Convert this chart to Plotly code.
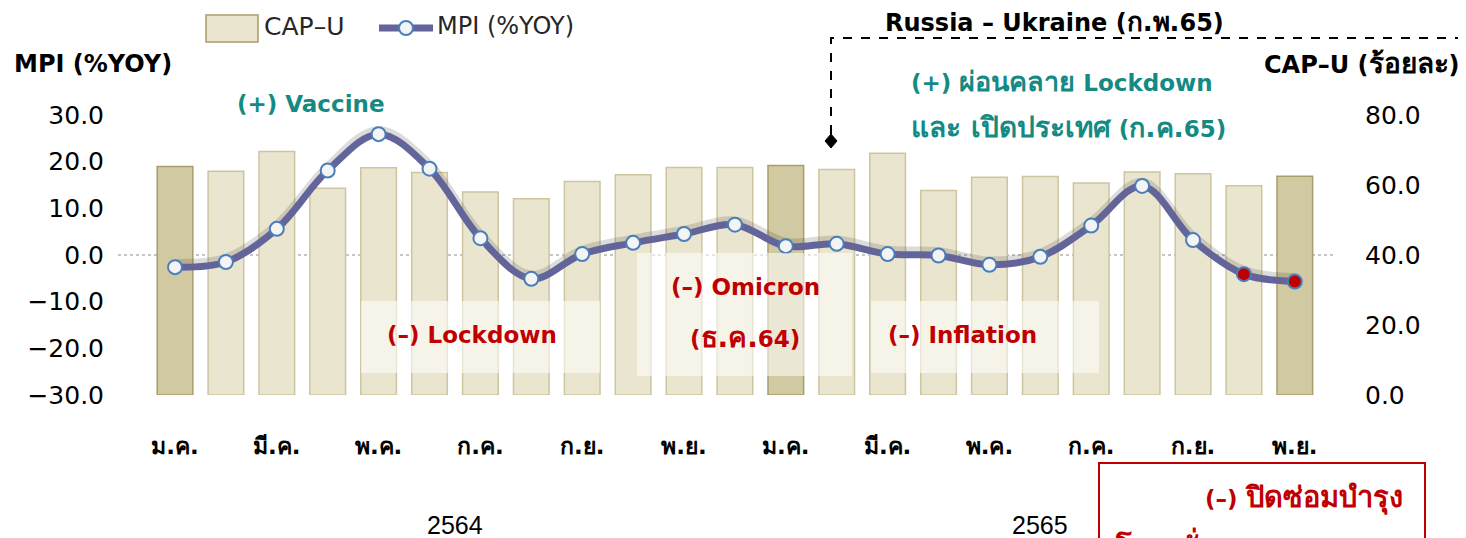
import plotly.graph_objects as go

# ---------------- data ----------------
months = ["ม.ค.", "ก.พ.", "มี.ค.", "เม.ย.", "พ.ค.", "มิ.ย.", "ก.ค.", "ส.ค.", "ก.ย.", "ต.ค.", "พ.ย.", "ธ.ค.",
          "ม.ค.", "ก.พ.", "มี.ค.", "เม.ย.", "พ.ค.", "มิ.ย.", "ก.ค.", "ส.ค.", "ก.ย.", "ต.ค.", "พ.ย."]
cap_u = [65.3, 63.9, 69.6, 59.1, 64.9, 63.6, 58.0, 56.1, 61.0, 62.9, 65.0, 65.0,
         65.6, 64.4, 69.1, 58.4, 62.2, 62.4, 60.6, 63.7, 63.2, 59.8, 62.5]
mpi_yoy = [-2.6, -1.5, 5.6, 18.1, 25.9, 18.5, 3.6, -5.1, 0.2, 2.6, 4.5, 6.5,
           1.9, 2.4, 0.2, -0.1, -2.1, -0.4, 6.3, 14.8, 3.2, -4.1, -5.7]
highlight_bars = [0, 12, 22]          # darker bars
red_points = [21, 22]                 # latest months highlighted in red
tick_idx = list(range(0, 23, 2))
tick_labels = [months[i] for i in tick_idx]
years = ["2564", "2565"]

x = list(range(len(months)))

# ---------------- geometry (reference pixel coords; page body has 8px margin) ----------------
OFF = 8
W, H = 1466 - OFF, 538 - OFF
L, R, T, B = 118, 1333, 115, 395
def px(v):
    return (v - L) / (R - L)
def py(v):
    return (B - v) / (B - T)

TEAL = "#138A84"
RED = "#C00000"
LINE_C = "#63659A"
FONT = "DejaVu Sans, Noto Sans, sans-serif"
NUMFONT = "DejaVu Sans, Liberation Sans, sans-serif"

def th(s, size):
    return f'<span style="font-size:{size}px">{s}</span>'

bar_fill = ["#D1C9A1" if i in highlight_bars else "#EAE5CF" for i in x]
bar_line = ["#A99D6B" if i in highlight_bars else "#CDC5A0" for i in x]
mk_fill = [RED if i in red_points else "#F4F4F4" for i in x]

fig = go.Figure()
fig.add_trace(go.Bar(
    x=x, y=cap_u, name="CAP-U", yaxis="y", width=0.70, showlegend=False,
    marker=dict(color=bar_fill, line=dict(color=bar_line, width=1.5)),
))
# soft drop shadow of the line (same data on a slightly shifted hidden axis)
fig.add_trace(go.Scatter(
    x=x, y=mpi_yoy, yaxis="y2", mode="lines", showlegend=False, hoverinfo="skip",
    line=dict(color="rgba(40,40,40,0.16)", width=9, shape="spline", smoothing=1.0),
))
fig.add_trace(go.Scatter(
    x=x, y=mpi_yoy, name="MPI (%YOY)", yaxis="y3", mode="lines+markers", showlegend=False,
    line=dict(color=LINE_C, width=7, shape="spline", smoothing=1.0),
    marker=dict(size=14, color=mk_fill, line=dict(color="#4A7EBB", width=2)),
))

shapes = [
    dict(type="line", xref="paper", yref="y3", x0=0, x1=1, y0=0, y1=0,
         line=dict(color="#8C8C8C", width=1, dash="dot"), layer="below"),
    # translucent annotation panels
    dict(type="rect", xref="paper", yref="paper", x0=px(361), x1=px(600), y0=py(373), y1=py(301),
         fillcolor="rgba(255,255,255,0.55)", line=dict(width=0), layer="above"),
    dict(type="rect", xref="paper", yref="paper", x0=px(637), x1=px(852), y0=py(376), y1=py(253),
         fillcolor="rgba(255,255,255,0.55)", line=dict(width=0), layer="above"),
    dict(type="rect", xref="paper", yref="paper", x0=px(871), x1=px(1099), y0=py(373), y1=py(301),
         fillcolor="rgba(255,255,255,0.55)", line=dict(width=0), layer="above"),
    # Russia-Ukraine dashed leader
    dict(type="path", xref="paper", yref="paper",
         path=f"M {px(831)} {py(134)} L {px(831)} {py(38)} L {px(1470)} {py(38)}",
         line=dict(color="black", width=2, dash="dash")),
    dict(type="path", xref="paper", yref="paper",
         path=f"M {px(831)} {py(134)} L {px(837)} {py(141)} L {px(831)} {py(148)} L {px(825)} {py(141)} Z",
         fillcolor="black", line=dict(color="black", width=1)),
    # red box bottom right
    dict(type="rect", xref="paper", yref="paper", x0=px(1099), x1=px(1425), y0=py(575), y1=py(463),
         line=dict(color=RED, width=2), fillcolor="rgba(0,0,0,0)"),
    # manual legend: CAP-U swatch
    dict(type="rect", xref="paper", yref="paper", x0=px(206), x1=px(258), y0=py(42), y1=py(15),
         fillcolor="#EAE5CF", line=dict(color="#A99D6B", width=1.5)),
    # manual legend: MPI line sample + marker
    dict(type="line", xref="paper", yref="paper", x0=px(379), x1=px(433), y0=py(28), y1=py(28),
         line=dict(color=LINE_C, width=7)),
    dict(type="circle", xref="paper", yref="paper", x0=px(399), x1=px(413), y0=py(35), y1=py(21),
         fillcolor="#F4F4F4", line=dict(color="#4A7EBB", width=2)),
]

def ann(text, xpix, ypix, color="black", size=23, bold=True, xanchor="center", family=FONT):
    t = f"<b>{text}</b>" if bold else text
    return dict(text=t, x=px(xpix), y=py(ypix), xref="paper", yref="paper",
                xanchor=xanchor, yanchor="middle", showarrow=False,
                font=dict(color=color, size=size, family=family))

annotations = [
    ann("CAP–U", 262, 26, color="#262626", size=25, bold=False, xanchor="left"),
    ann("MPI (%YOY)", 435, 26, color="#262626", size=24, bold=False, xanchor="left"),
    ann("MPI (%YOY)", 12, 64, size=24, xanchor="left"),
    ann("CAP–U (" + th("ร้อยละ", 28) + ")", 1462, 64, size=24, xanchor="right"),
    ann("(+) Vaccine", 311, 104, color=TEAL),
    ann("(+) " + th("ผ่อนคลาย", 27) + " Lockdown", 909, 81, color=TEAL, xanchor="left"),
    ann(th("และ เปิดประเทศ", 28) + " (" + th("ก.ค.", 27) + "65)", 909, 128, color=TEAL, xanchor="left"),
    ann("Russia – Ukraine (" + th("ก.พ.", 26) + "65)", 883, 22, size=24, xanchor="left"),
    ann("(–) Lockdown", 472, 335, color=RED),
    ann("(–) Omicron", 745, 287, color=RED),
    ann("(" + th("ธ.ค.", 28) + "64)", 745, 337, color=RED),
    ann("(–) Inflation", 962, 335, color=RED),
    ann("(–) " + th("ปิดซ่อมบำรุง", 29), 1405, 497, color=RED, xanchor="right"),
    ann(th("โรงกลั่น", 29) + " (" + th("ก.ย.-ต.ค.", 28) + "65)", 1405, 546, color=RED, xanchor="right"),
    ann(years[0], 455, 525, size=25, bold=False, family="Liberation Sans Narrow, Liberation Sans, sans-serif"),
    ann(years[1], 1040, 525, size=25, bold=False, family="Liberation Sans Narrow, Liberation Sans, sans-serif"),
]

fig.update_layout(
    width=W, height=H,
    margin=dict(l=L - OFF, r=1466 - R, t=T - OFF, b=538 - B, pad=0),
    paper_bgcolor="white", plot_bgcolor="white",
    font=dict(family=FONT, color="black"),
    showlegend=False,
    xaxis=dict(range=[-1.12, 22.75], tickmode="array", tickvals=tick_idx,
               ticktext=[f"<b>{t}</b>" for t in tick_labels],
               tickfont=dict(size=23, family=FONT), showgrid=False, zeroline=False,
               showline=False, ticks="", ticklabelstandoff=35),
    yaxis=dict(range=[0, 80], side="right", tickvals=[0, 20, 40, 60, 80], tickformat=".1f",
               tickfont=dict(size=25, family=NUMFONT),
               showgrid=False, zeroline=False, showline=False, ticks="", ticklabelstandoff=31),
    yaxis2=dict(range=[-30.8, 29.2], overlaying="y", visible=False),
    yaxis3=dict(range=[-30, 30], overlaying="y", side="left", tickvals=[-30, -20, -10, 0, 10, 20, 30],
                tickformat=".1f", tickfont=dict(size=25, family=NUMFONT),
                showgrid=False, zeroline=False, showline=False, ticks="", ticklabelstandoff=13),
    shapes=shapes,
    annotations=annotations,
)

fig.write_html("out.html")
